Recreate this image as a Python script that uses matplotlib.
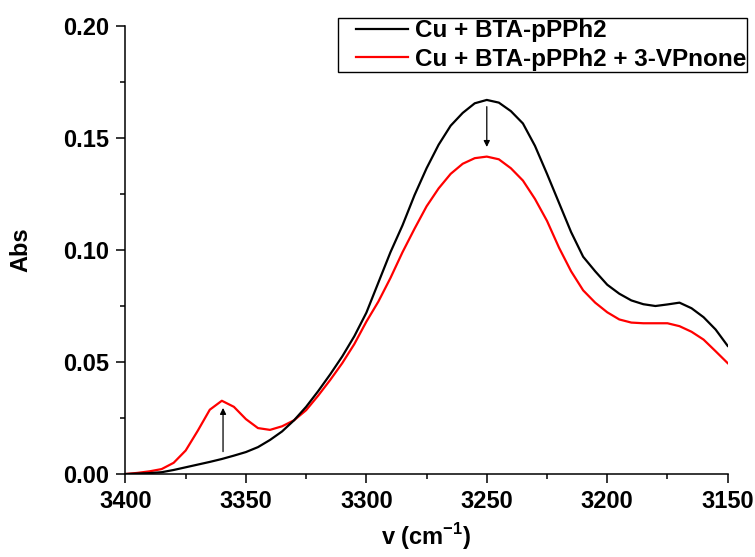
import matplotlib
matplotlib.use("Agg")
import matplotlib.pyplot as plt
from matplotlib.lines import Line2D
from matplotlib.legend_handler import HandlerLine2D
from matplotlib.ticker import MultipleLocator

plt.rcParams['font.family'] = ['Liberation Sans', 'DejaVu Sans']
plt.rcParams['font.weight'] = 'bold'
plt.rcParams['mathtext.fontset'] = 'custom'
plt.rcParams['mathtext.rm'] = 'Liberation Sans'
plt.rcParams['mathtext.bf'] = 'Liberation Sans:bold'

# Wavenumbers (cm^-1)
wavenumber = [3400, 3395, 3390, 3385, 3380, 3375, 3370, 3365, 3360, 3355,
              3350, 3345, 3340, 3335, 3330, 3325, 3320, 3315, 3310, 3305,
              3300, 3295, 3290, 3285, 3280, 3275, 3270, 3265, 3260, 3255,
              3250, 3245, 3240, 3235, 3230, 3225, 3220, 3215, 3210, 3205,
              3200, 3195, 3190, 3185, 3180, 3175, 3170, 3165, 3160, 3155,
              3150]

# Absorbance, Cu + BTA-pPPh2
abs_cu_bta = [0.0000, 0.0002, 0.0004, 0.0008, 0.0018, 0.0030, 0.0042, 0.0054, 0.0067, 0.0082,
              0.0098, 0.0120, 0.0152, 0.0190, 0.0240, 0.0300, 0.0370, 0.0445, 0.0525, 0.0615,
              0.0720, 0.0855, 0.0990, 0.1110, 0.1245, 0.1365, 0.1470, 0.1555, 0.1612, 0.1655,
              0.1670, 0.1658, 0.1620, 0.1565, 0.1465, 0.1340, 0.1210, 0.1080, 0.0970, 0.0905,
              0.0845, 0.0805, 0.0775, 0.0758, 0.0750, 0.0757, 0.0765, 0.0740, 0.0700, 0.0645,
              0.0572]

# Absorbance, Cu + BTA-pPPh2 + 3-VPnone
abs_cu_bta_vp = [0.0000, 0.0005, 0.0012, 0.0022, 0.0050, 0.0105, 0.0193, 0.0287, 0.0327, 0.0300,
                 0.0245, 0.0205, 0.0197, 0.0213, 0.0240, 0.0285, 0.0350, 0.0420, 0.0495, 0.0580,
                 0.0680, 0.0770, 0.0875, 0.0990, 0.1095, 0.1195, 0.1275, 0.1340, 0.1385, 0.1410,
                 0.1417, 0.1405, 0.1365, 0.1310, 0.1228, 0.1130, 0.1010, 0.0905, 0.0820, 0.0765,
                 0.0722, 0.0690, 0.0676, 0.0673, 0.0673, 0.0673, 0.0660, 0.0635, 0.0600, 0.0548,
                 0.0495]

labels = ['Cu + BTA-pPPh2', 'Cu + BTA-pPPh2 + 3-VPnone']

# Arrows marking the change between the two spectra: (x, y_start, y_end)
arrow_up = (3359.5, 0.010, 0.0295)
arrow_down = (3250, 0.164, 0.146)

fig = plt.figure(figsize=(7.55, 5.57), dpi=100)
ax = fig.add_axes([0.1662, 0.149, 0.7976, 0.8043])

ax.plot(wavenumber, abs_cu_bta, color='black', lw=1.6, label=labels[0], zorder=3)
ax.plot(wavenumber, abs_cu_bta_vp, color='#ff0000', lw=1.6, label=labels[1], zorder=2)

for (xa, y0, y1) in (arrow_up, arrow_down):
    ax.annotate('', xy=(xa, y1), xytext=(xa, y0),
                arrowprops=dict(arrowstyle='-|>', color='black', lw=0.9,
                                mutation_scale=9, shrinkA=0, shrinkB=0))

ax.set_xlim(3400, 3150)
ax.set_ylim(0, 0.20)
ax.xaxis.set_major_locator(MultipleLocator(50))
ax.xaxis.set_minor_locator(MultipleLocator(25))
ax.yaxis.set_major_locator(MultipleLocator(0.05))
ax.yaxis.set_minor_locator(MultipleLocator(0.025))
ax.yaxis.set_major_formatter(plt.FormatStrFormatter('%.2f'))

for side in ('top', 'right'):
    ax.spines[side].set_visible(False)
for side in ('left', 'bottom'):
    ax.spines[side].set_linewidth(1.1)

ax.tick_params(which='major', direction='out', length=6.5, width=1.1,
               labelsize=17, pad=5)
ax.tick_params(which='minor', direction='out', length=3.4, width=1.1)
for lab in ax.get_xticklabels() + ax.get_yticklabels():
    lab.set_fontweight('bold')

ax.set_xlabel(r'v (cm$^{\mathregular{-1}}$)', fontsize=17, fontweight='bold', labelpad=6)
ax.set_ylabel('Abs', fontsize=17, fontweight='bold', labelpad=22)

leg = fig.legend(loc='upper left', bbox_to_anchor=(338 / 755, 1 - 18 / 557),
                 bbox_transform=fig.transFigure,
                 prop={'weight': 'bold', 'size': 17.5}, frameon=True, fancybox=False,
                 edgecolor='black', framealpha=1, borderpad=0.05, labelspacing=0.22,
                 handlelength=2.85, handletextpad=0.25, borderaxespad=0,
                 handler_map={Line2D: HandlerLine2D(xpad=0.7)})
leg.get_frame().set_linewidth(1.0)

fig.savefig('out.png', dpi=100)
